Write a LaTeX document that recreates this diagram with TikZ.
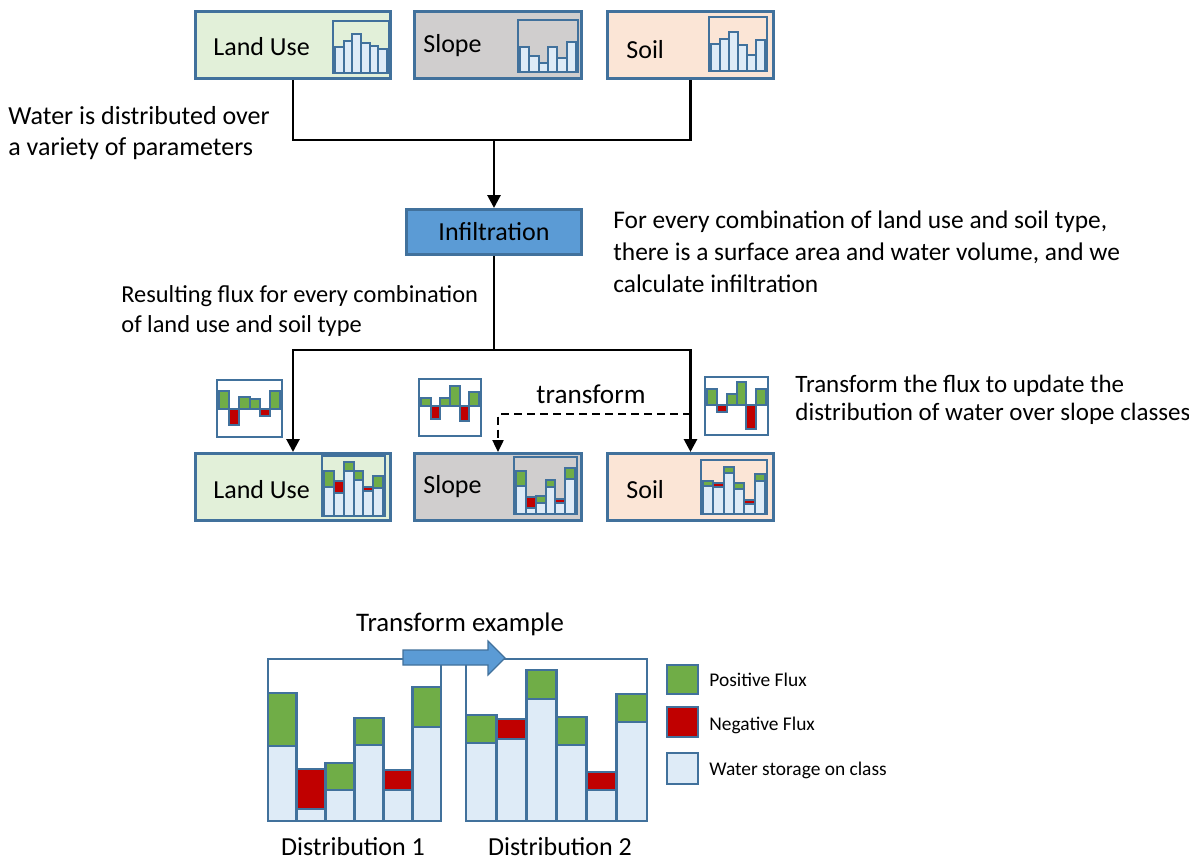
\documentclass[tikz,border=0pt]{standalone}
\usepackage{fontspec}
\setmainfont{Carlito}
\usetikzlibrary{arrows.meta}
\definecolor{bblue}{HTML}{41719C}
\definecolor{lugreen}{HTML}{E2F0D9}
\definecolor{slopegray}{HTML}{D0CECE}
\definecolor{soilpeach}{HTML}{FBE5D6}
\definecolor{infblue}{HTML}{5B9BD5}
\definecolor{storage}{HTML}{DEEBF7}
\definecolor{grn}{HTML}{70AD47}
\definecolor{red}{HTML}{C00000}
\newcommand\plainbars[4]{\foreach \s [count=\i] in {#4}{\filldraw[bar] ({#1+(\i-1)*(#2-#1)/6},\s) rectangle ({#1+\i*(#2-#1)/6},#3);}}
\newcommand\fluxbars[5][bar]{\foreach \t/\s/\c [count=\i] in {#5}{%
  \filldraw[#1] ({#2+(\i-1)*(#3-#2)/6},\s) rectangle ({#2+\i*(#3-#2)/6},#4);
  \filldraw[#1,fill=\c] ({#2+(\i-1)*(#3-#2)/6},\t) rectangle ({#2+\i*(#3-#2)/6},\s);}}
\newcommand\fluxicon[3]{\foreach \a/\b/\c [count=\i] in {#3}{%
  \filldraw[bar,fill=\c] ({#1+(\i-1)*(#2-#1)/6},\a) rectangle ({#1+\i*(#2-#1)/6},\b);}}
\begin{document}
\begin{tikzpicture}[x=0.5pt,y=-0.5pt,
  box/.style={draw=bblue,line width=1.5pt,inner sep=0pt},
  lbl/.style={font=\fontsize{13}{15.5}\selectfont,inner sep=0pt,anchor=base west,align=left},
  small/.style={font=\fontsize{9.7}{11}\selectfont,inner sep=0pt,anchor=base west},
  bar/.style={draw=bblue,line width=1pt,fill=storage},
  bigbar/.style={draw=bblue,line width=1.4pt,fill=storage},
  frame/.style={draw=bblue,line width=1.3pt},
  conn/.style={draw=black,line width=1.4pt},
  tip/.style={-{Triangle[length=6.5pt,width=6.5pt]}},
  dashconn/.style={draw=black,line width=1.2pt,dash pattern=on 4pt off 2.5pt,-{Triangle[length=6pt,width=5.5pt]}}]
\useasboundingbox (0,0) rectangle (1189,862);
\fill[white] (0,0) rectangle (1189,862);

% ---------- top row ----------
\node[box,fill=lugreen,minimum width=97.5pt,minimum height=33.5pt] (lu1) at (293,45) {};
\node[box,fill=slopegray,minimum width=83.5pt,minimum height=33.5pt] (slope1) at (498,45) {};
\node[box,fill=soilpeach,minimum width=83pt,minimum height=33.5pt] (soil1) at (690.5,45) {};
\node[lbl] (lu1t) at (213,55) {Land Use};
\node[lbl] (slope1t) at (423,52) {Slope};
\node[lbl] (soil1t) at (626,58) {Soil};
\plainbars{335}{387}{73}{47,41,34,43,46,49}
\draw[frame] (333,21) rectangle (389,73);
\plainbars{520}{576}{72}{46.7,55.7,63.3,47.3,58.3,42.3}
\draw[frame] (518,20) rectangle (578,72);
\plainbars{711}{765}{71}{44,39,32,45,55,40}
\draw[frame] (709,17) rectangle (767,71);

% ---------- infiltration ----------
\node[box,fill=infblue,minimum width=87.5pt,minimum height=22.5pt,
      font=\fontsize{13}{15.5}\selectfont] (inf) at (494,232) {Infiltration};
\coordinate (j1) at (inf.north |- 0,140);
\draw[conn] (lu1.south) |- (j1) -| (soil1.south);
\draw[conn,tip] (j1) -- (inf.north);

% ---------- bottom row ----------
\node[box,fill=lugreen,minimum width=97.5pt,minimum height=33.5pt] (lu2) at (293,487) {};
\node[box,fill=slopegray,minimum width=83.5pt,minimum height=33.5pt] (slope2) at (498,487) {};
\node[box,fill=soilpeach,minimum width=83pt,minimum height=33.5pt] (soil2) at (690.5,487) {};
\node[lbl] (lu2t) at (213,498) {Land Use};
\node[lbl] (slope2t) at (423,493) {Slope};
\node[lbl] (soil2t) at (626,498) {Soil};
\fluxbars{324}{383}{516}{471/487/grn,481/493/red,462/471/grn,471/480/grn,487/491/red,476/488/grn}
\draw[frame] (322,456) rectangle (385,516);
\fluxbars{516}{575}{514}{471/486/grn,497/508/red,496/503/grn,480/487/grn,499/503/red,468/479/grn}
\draw[frame] (514,457) rectangle (577,514);
\fluxbars{703}{765}{514}{481/486/grn,483/487/red,467/473/grn,483/489/grn,500/504/red,474/481/grn}
\draw[frame] (701,460) rectangle (767,514);

\coordinate (j2) at (inf.south |- 0,350);
\draw[conn] (inf.south) -- (j2);
\draw[conn,tip] (j2) -| (lu2.north);
\draw[conn,tip] (j2) -| (soil2.north);
\coordinate (d1) at (soil2.north |- 0,414);
\draw[dashconn] (d1) -| (slope2.north);
\node[lbl,anchor=base,font=\fontsize{13.6}{15.5}\selectfont] (tr) at (591,403) {transform};

% ---------- flux icons ----------
\filldraw[frame,fill=white] (217,380) rectangle (282,437);
\fluxicon{219}{280}{391/408.5/grn,408.5/425/red,397/408.5/grn,399/408.5/grn,408.5/416/red,391/408.5/grn}
\filldraw[frame,fill=white] (419,379) rectangle (481,436);
\fluxicon{421}{479}{398/406/grn,406/419/red,398/406/grn,386/406/grn,406/421/red,392/406/grn}
\filldraw[frame,fill=white] (705,377) rectangle (768,435);
\fluxicon{707}{766}{389/405/grn,405/412/red,394/405/grn,382/405/grn,405/429/red,389/405/grn}

% ---------- texts (anchor = baseline of last line) ----------
\node[lbl] (t1) at (8,155) {Water is distributed over\\a variety of parameters};
\node[lbl,font=\fontsize{12.7}{15.8}\selectfont] (t2) at (613,292) {For every combination of land use and soil type,\\there is a surface area and water volume, and we\\calculate infiltration};
\node[lbl,font=\fontsize{12.2}{14.8}\selectfont] (t3) at (121,332) {Resulting flux for every combination\\of land use and soil type};
\node[lbl,font=\fontsize{12.5}{14}\selectfont] (t4) at (795,420) {Transform the flux to update the\\distribution of water over slope classes};

% ---------- transform example ----------
\node[lbl,anchor=base,font=\fontsize{13.4}{15.5}\selectfont] (te) at (460,631) {Transform example};
\fluxbars[bigbar]{268}{441}{821}{693/746/grn,769/809/red,763/790/grn,718/745/grn,770/790/red,687/727/grn}
\draw[frame,line width=1.4pt] (268,659) rectangle (441,821);
\fluxbars[bigbar]{466}{647}{821}{715/743/grn,719/739/red,670/699/grn,717/745/grn,772/790/red,694/722/grn}
\draw[frame,line width=1.4pt] (466,659) rectangle (647,821);
\filldraw[fill=infblue,draw=bblue,line width=0.6pt] (403,650) -- (488,650) -- (488,641) -- (505,658) -- (488,675) -- (488,665) -- (403,665) -- cycle;
\node[lbl,anchor=base] (d1t) at (353,855) {Distribution 1};
\node[lbl,anchor=base] (d2t) at (560,855) {Distribution 2};

% ---------- legend ----------
\filldraw[bigbar,fill=grn] (667,665) rectangle (698,694);
\filldraw[bigbar,fill=red] (667,707) rectangle (698,737);
\filldraw[bigbar,fill=storage] (667,753) rectangle (698,784);
\node[small] (l1) at (709,686) {Positive Flux};
\node[small] (l2) at (709,730) {Negative Flux};
\node[small] (l3) at (709,775) {Water storage on class};
\end{tikzpicture}
\end{document}
